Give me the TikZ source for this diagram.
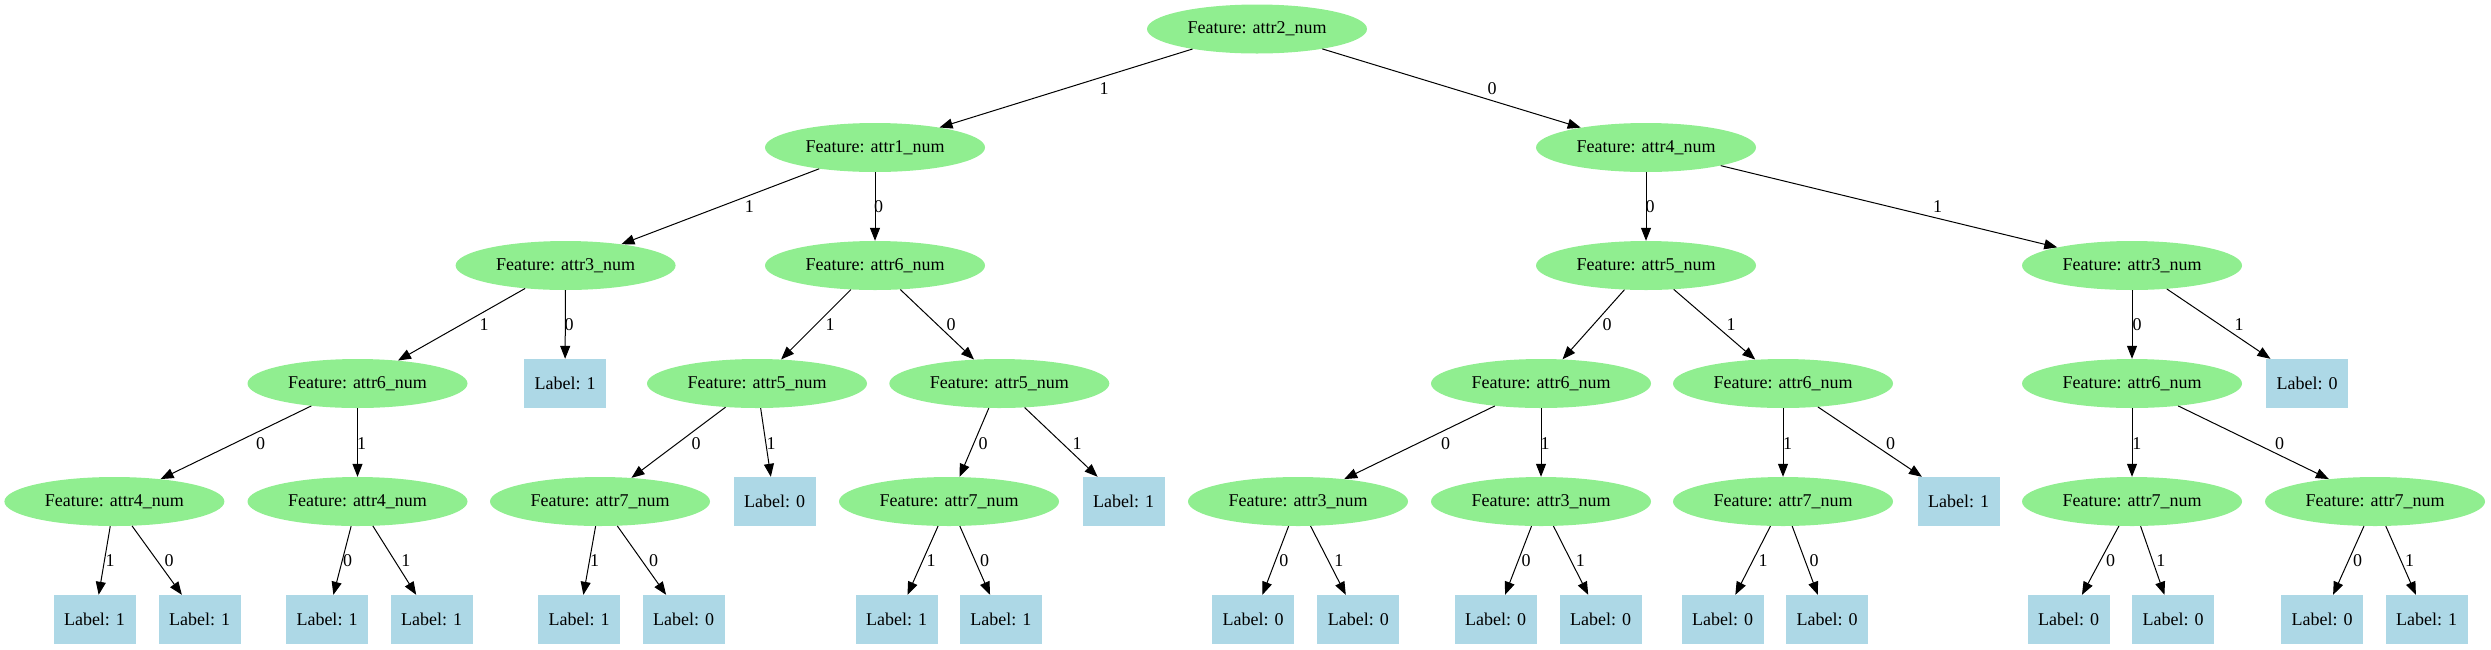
\documentclass[tikz,border=0pt]{standalone}
\usepackage{fontspec}
\setmainfont{Liberation Serif}
\usetikzlibrary{shapes.geometric,arrows.meta}
\tikzset{
  feat/.style={ellipse, fill={rgb,255:red,144;green,238;blue,144}, draw=none, inner sep=0pt, minimum width=220pt, minimum height=49pt, font=\fontsize{18}{21}\selectfont},
  leaf/.style={rectangle, fill={rgb,255:red,173;green,216;blue,230}, draw=none, inner sep=0pt, minimum width=82pt, minimum height=49pt, font=\fontsize{18}{21}\selectfont},
  edge/.style={draw=black, line width=1pt, -{Triangle[length=13pt,width=10pt]}},
  elabel/.style={inner sep=0pt, font=\fontsize{18}{21}\selectfont}
}
\newcommand{\edg}[4]{\draw[edge] (#1) -- (#2) node[elabel] at (#3) {#4};}
\begin{document}
\begin{tikzpicture}[x=1pt,y=-1pt]
\useasboundingbox (0,0) rectangle (2491,649);
% level 0
\node[feat] (n0) at (1257,29) {Feature: attr2\_num};
% level 1
\node[feat] (n1) at (875,147.5) {Feature: attr1\_num};
\node[feat] (n2) at (1646,147.5) {Feature: attr4\_num};
% level 2
\node[feat] (a) at (565.6,265.5) {Feature: attr3\_num};
\node[feat] (b) at (875,265.5) {Feature: attr6\_num};
\node[feat] (c) at (1646,265.5) {Feature: attr5\_num};
\node[feat] (d) at (2132,265.5) {Feature: attr3\_num};
% level 3
\node[feat] (aa) at (357.5,383.5) {Feature: attr6\_num};
\node[leaf] (ab) at (565,383.5) {Label: 1};
\node[feat] (ba) at (757,383.5) {Feature: attr5\_num};
\node[feat] (bb) at (999.3,383.5) {Feature: attr5\_num};
\node[feat] (ca) at (1541,383.5) {Feature: attr6\_num};
\node[feat] (cb) at (1783,383.5) {Feature: attr6\_num};
\node[feat] (da) at (2132,383.5) {Feature: attr6\_num};
\node[leaf] (db) at (2307,383.5) {Label: 0};
% level 4
\node[feat] (aaa) at (114.4,501.5) {Feature: attr4\_num};
\node[feat] (aab) at (357.5,501.5) {Feature: attr4\_num};
\node[feat] (baa) at (600,501.5) {Feature: attr7\_num};
\node[leaf] (bab) at (774.5,501.5) {Label: 0};
\node[feat] (bba) at (949,501.5) {Feature: attr7\_num};
\node[leaf] (bbb) at (1123.6,501.5) {Label: 1};
\node[feat] (caa) at (1298,501.5) {Feature: attr3\_num};
\node[feat] (cab) at (1541,501.5) {Feature: attr3\_num};
\node[feat] (cba) at (1783,501.5) {Feature: attr7\_num};
\node[leaf] (cbb) at (1958.7,501.5) {Label: 1};
\node[feat] (daa) at (2132,501.5) {Feature: attr7\_num};
\node[feat] (dab) at (2375,501.5) {Feature: attr7\_num};
% level 5
\node[leaf] (l1) at (94.5,619.5) {Label: 1};
\node[leaf] (l2) at (199.7,619.5) {Label: 1};
\node[leaf] (l3) at (327,619.5) {Label: 1};
\node[leaf] (l4) at (431.7,619.5) {Label: 1};
\node[leaf] (l5) at (579,619.5) {Label: 1};
\node[leaf] (l6) at (683.6,619.5) {Label: 0};
\node[leaf] (l7) at (896.5,619.5) {Label: 1};
\node[leaf] (l8) at (1000.9,619.5) {Label: 1};
\node[leaf] (l9) at (1253,619.5) {Label: 0};
\node[leaf] (l10) at (1358.4,619.5) {Label: 0};
\node[leaf] (l11) at (1495.5,619.5) {Label: 0};
\node[leaf] (l12) at (1600.7,619.5) {Label: 0};
\node[leaf] (l13) at (1722.7,619.5) {Label: 0};
\node[leaf] (l14) at (1827,619.5) {Label: 0};
\node[leaf] (l15) at (2068.7,619.5) {Label: 0};
\node[leaf] (l16) at (2173,619.5) {Label: 0};
\node[leaf] (l17) at (2322,619.5) {Label: 0};
\node[leaf] (l18) at (2426.7,619.5) {Label: 1};
% edges level 0-1
\edg{n0}{n1}{1104,89}{1}
\edg{n0}{n2}{1492,89}{0}
% level 1-2
\edg{n1}{a}{749.4,207}{1}
\edg{n1}{b}{878.5,207}{0}
\edg{n2}{c}{1650,207}{0}
\edg{n2}{d}{1937.5,207}{1}
% level 2-3
\edg{a}{aa}{484,325}{1}
\edg{a}{ab}{569,325}{0}
\edg{b}{ba}{830,325}{1}
\edg{b}{bb}{951,325}{0}
\edg{c}{ca}{1607,325}{0}
\edg{c}{cb}{1731,325}{1}
\edg{d}{da}{2137,325}{0}
\edg{d}{db}{2239,325}{1}
% level 3-4
\edg{aa}{aaa}{260.7,443.3}{0}
\edg{aa}{aab}{361.5,443.3}{1}
\edg{ba}{baa}{696,443.3}{0}
\edg{ba}{bab}{771,443.3}{1}
\edg{bb}{bba}{983,443.3}{0}
\edg{bb}{bbb}{1077,443.3}{1}
\edg{ca}{caa}{1445.7,443.3}{0}
\edg{ca}{cab}{1545,443.3}{1}
\edg{cb}{cba}{1787.7,443.3}{1}
\edg{cb}{cbb}{1890.5,443.3}{0}
\edg{da}{daa}{2136.8,443.3}{1}
\edg{da}{dab}{2279.5,443.3}{0}
% level 4-5
\edg{aaa}{l1}{110,560.7}{1}
\edg{aaa}{l2}{169,560.7}{0}
\edg{aab}{l3}{347.6,560.7}{0}
\edg{aab}{l4}{405.8,560.7}{1}
\edg{baa}{l5}{594.7,560.7}{1}
\edg{baa}{l6}{653.7,560.7}{0}
\edg{bba}{l7}{931,560.7}{1}
\edg{bba}{l8}{984.5,560.7}{0}
\edg{caa}{l9}{1283.8,560.7}{0}
\edg{caa}{l10}{1338.9,560.7}{1}
\edg{cab}{l11}{1526.2,560.7}{0}
\edg{cab}{l12}{1580.4,560.7}{1}
\edg{cba}{l13}{1763,560.7}{1}
\edg{cba}{l14}{1814,560.7}{0}
\edg{daa}{l15}{2110.5,560.7}{0}
\edg{daa}{l16}{2160.8,560.7}{1}
\edg{dab}{l17}{2357.7,560.7}{0}
\edg{dab}{l18}{2409.5,560.7}{1}
\end{tikzpicture}
\end{document}
